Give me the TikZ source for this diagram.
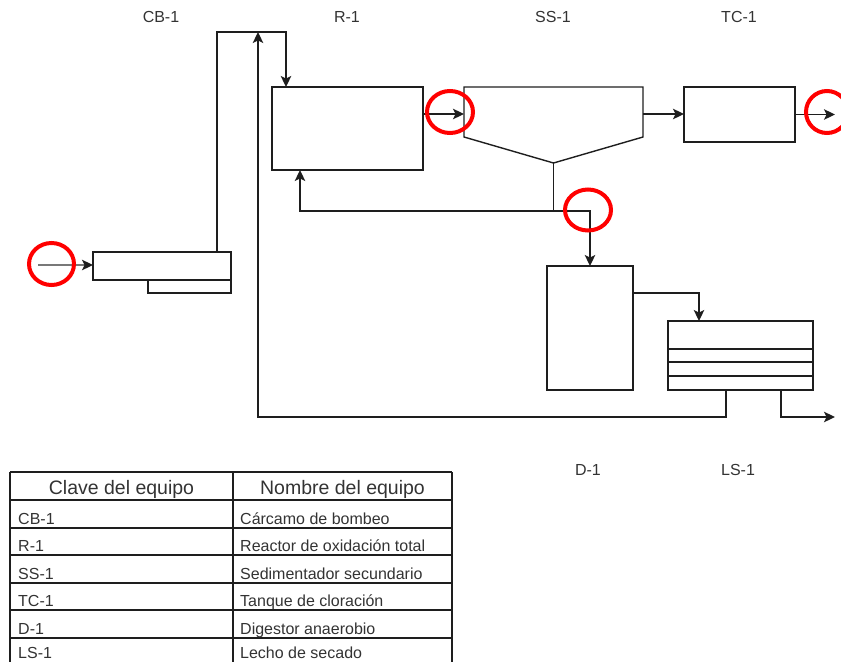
\documentclass[tikz,border=0pt]{standalone}
\usepackage{fontspec}
\setmainfont{Liberation Sans}
\usetikzlibrary{arrows.meta,calc}
\definecolor{ln}{RGB}{30,30,30}
\definecolor{txt}{RGB}{51,51,51}
\definecolor{inl}{RGB}{120,120,120}
\begin{document}
\begin{tikzpicture}[x=1pt,y=-1pt]
\tikzset{
  unit/.style={draw=ln, line width=1.4pt, inner sep=0pt, outer sep=0pt},
  pipe/.style={draw=ln, line width=1.4pt},
  flow/.style={draw=ln, line width=1.4pt, -{Stealth[length=11pt,width=10.5pt,inset=2.5pt,color=ln]}},
  tag/.style={text=txt, font=\fontsize{16}{19}\selectfont, inner sep=0pt},
  redring/.style={draw=red, line width=4pt},
  cell/.style={text=txt, font=\fontsize{16}{19}\selectfont, anchor=base west, inner sep=0pt},
  head/.style={text=txt, font=\fontsize{19.5}{23}\selectfont, anchor=base, inner sep=0pt},
  tabline/.style={draw=ln, line width=1.2pt}
}
\useasboundingbox (0,0) rectangle (841,662);

% units
\node[unit, minimum width=138pt, minimum height=28pt] (cb) at (162,266) {};
\node[unit, minimum width=83pt, minimum height=13pt] (cbs) at (189.5,286.5) {};
\node[unit, minimum width=151pt, minimum height=83pt] (r1) at (347.5,128.5) {};
\node[minimum width=179pt, minimum height=76pt, inner sep=0pt, outer sep=0pt] (ss) at (553.5,125) {};
\draw[pipe] (ss.north west) -- (ss.north east) -- ($(ss.north east)+(0,50)$) -- (ss.south) -- ($(ss.north west)+(0,50)$) -- cycle;
\node[unit, minimum width=111pt, minimum height=55pt] (tc) at (739.5,114.5) {};
\node[unit, minimum width=86pt, minimum height=124pt] (d1) at (590,328) {};
\node[unit, minimum width=145pt, minimum height=69pt] (ls) at (740.5,355.5) {};
\foreach \dy in {28,41,55}
  \draw[pipe] ($(ls.north west)+(0,\dy)$) -- ($(ls.north east)+(0,\dy)$);

% labels
\node[tag] (lcb) at (161,17) {CB-1};
\node[tag] (lr) at (347,17) {R-1};
\node[tag] (lss) at (553,17) {SS-1};
\node[tag] (ltc) at (739,17) {TC-1};
\node[tag] (ld) at (588,470) {D-1};
\node[tag] (lls) at (738,470) {LS-1};

% connectors
\coordinate (inlet) at (38,265);
\draw[flow, draw=inl] (inlet) -- (inlet -| cb.west);
\coordinate (cbo) at ($(cb.north west)+(124,0)$);
\coordinate (rin) at ($(r1.north west)+(14,0)$);
\coordinate (topy) at (0,32);
\draw[flow] (cbo) |- (topy -| rin) -- (rin);
\coordinate (lsa) at ($(ls.south west)+(58,0)$);
\coordinate (lsb) at ($(ls.south west)+(113,0)$);
\coordinate (boty) at (0,417);
\coordinate (retup) at (258,32);
\draw[flow] (lsa) |- (boty -| retup) -- (retup);
\coordinate (outlow) at (835,417);
\draw[flow] (lsb) |- (outlow);
\coordinate (ssin) at ($(ss.north west)+(0,27)$);
\draw[flow] (ssin -| r1.east) -- (ssin);
\coordinate (ssout) at ($(ss.north east)+(0,27)$);
\draw[flow] (ssout) -- (ssout -| tc.west);
\coordinate (outtop) at (835,114.5);
\draw[flow] (tc.east) -- (outtop);
\coordinate (split) at ($(ss.south)+(0,48)$);
\coordinate (rret) at ($(r1.south west)+(28,0)$);
\draw[flow] (ss.south) -- (split) -| (rret);
\draw[flow] (split) -| (d1.north);
\coordinate (dout) at ($(d1.north east)+(0,27)$);
\coordinate (lsin) at ($(ls.north west)+(31,0)$);
\draw[flow] (dout) -| (lsin);

% red rings
\draw[redring] (51.5,264) ellipse [x radius=22.5pt, y radius=21pt];
\draw[redring] (450,112) ellipse [x radius=23pt, y radius=21pt];
\draw[redring] (588,210) ellipse [x radius=23pt, y radius=20.5pt];
\draw[redring] (827,112) ellipse [x radius=21pt, y radius=21pt];

% table
\foreach \yy in {472,500,528,555,583,610,638}
  \draw[tabline] (10,\yy) -- (452,\yy);
\foreach \xx in {10,233,452}
  \draw[tabline] (\xx,472) -- (\xx,662);
\node[head] (h1) at (121.5,494) {Clave del equipo};
\node[head] (h2) at (342.5,494) {Nombre del equipo};
\node[cell] (k1) at (18,524) {CB-1};
\node[cell] (n1) at (240,524) {Cárcamo de bombeo};
\node[cell] (k2) at (18,551) {R-1};
\node[cell] (n2) at (240,551) {Reactor de oxidación total};
\node[cell] (k3) at (18,579) {SS-1};
\node[cell] (n3) at (240,579) {Sedimentador secundario};
\node[cell] (k4) at (18,606) {TC-1};
\node[cell] (n4) at (240,606) {Tanque de cloración};
\node[cell] (k5) at (18,634) {D-1};
\node[cell] (n5) at (240,634) {Digestor anaerobio};
\node[cell] (k6) at (18,658) {LS-1};
\node[cell] (n6) at (240,658) {Lecho de secado};
\end{tikzpicture}
\end{document}
